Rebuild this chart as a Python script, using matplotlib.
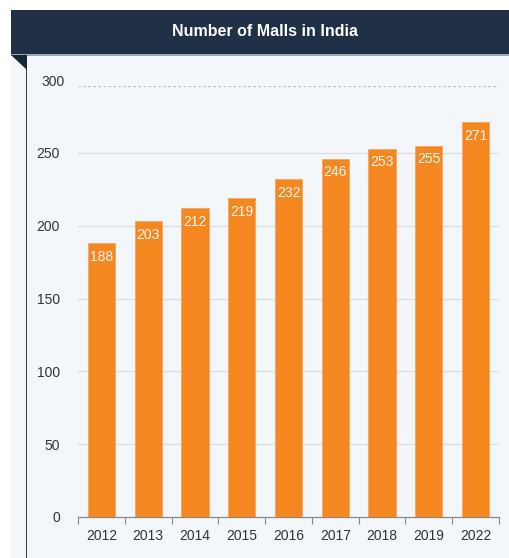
import matplotlib
matplotlib.use("Agg")
import matplotlib.pyplot as plt
from matplotlib.patches import Rectangle, Polygon
from matplotlib.transforms import offset_copy
import numpy as np

years = ["2012", "2013", "2014", "2015", "2016", "2017", "2018", "2019", "2022"]
malls = [188, 203, 212, 219, 232, 246, 253, 255, 271]
yticks = [0, 50, 100, 150, 200, 250]
title = "Number of Malls in India"

W, H = 510, 558
fig = plt.figure(figsize=(W / 100, H / 100), dpi=100)
fig.patch.set_facecolor("white")

def fx(px):
    return px / W

def fy(py):
    return 1 - py / H

# panel background
fig.patches.append(Rectangle((fx(11), 0), fx(W - 11), fy(55), transform=fig.transFigure,
                             facecolor="#f3f7f9", edgecolor="none", zorder=-10))
# header
fig.patches.append(Rectangle((fx(11), fy(54)), fx(W - 11), 44 / H, transform=fig.transFigure,
                             facecolor="#1f3047", edgecolor="none", zorder=-9))
fig.patches.append(Rectangle((fx(11), fy(55.5)), fx(W - 11), 1.5 / H, transform=fig.transFigure,
                             facecolor="#9aa8b2", edgecolor="none", zorder=-9))
# left vertical line
fig.patches.append(Rectangle((fx(25.5), 0), 1.3 / W, fy(55), transform=fig.transFigure,
                             facecolor="#2c3d4c", edgecolor="none", zorder=-9))
# triangle
fig.patches.append(Polygon([(fx(11), fy(55)), (fx(26.5), fy(55)), (fx(26.5), fy(70))],
                           closed=True, transform=fig.transFigure,
                           facecolor="#17262f", edgecolor="none", zorder=-9))

fig.text(fx(265.5), fy(32), title, ha="center", va="center", color="white",
         fontsize=11.5, fontweight="bold", family="Liberation Sans")

ax = fig.add_axes([fx(78), fy(517), fx(499) - fx(78), (517 - 86) / H])
ax.set_facecolor("none")

x = np.arange(len(years))
ax.bar(x, malls, width=0.58, color="#f58720", edgecolor="#f8a968", linewidth=0.7, zorder=3)
for xi, v in zip(x, malls):
    ax.text(xi, v - 4.5, str(v), ha="center", va="top", color="white", alpha=0.95,
            fontsize=10, family="Liberation Sans", zorder=4)

ax.set_xlim(-0.5, len(years) - 0.5)
ax.set_ylim(0, 296)
ax.set_yticks(yticks)
ax.set_yticklabels([str(t) for t in yticks])
ax.tick_params(axis="y", length=0, pad=13, labelsize=10, labelcolor="#333333")
for lab in ax.get_yticklabels():
    lab.set_family("Liberation Sans")
ax.text(-0.5, 300, "300", transform=offset_copy(ax.transData, fig=fig, x=-13, y=0, units="dots"),
        ha="right", va="center_baseline", fontsize=10, color="#333333",
        family="Liberation Sans", clip_on=False)

ax.set_xticks(x)
ax.set_xticklabels(years)
ax.tick_params(axis="x", length=0, pad=9, labelsize=10, labelcolor="#333333")
for lab in ax.get_xticklabels():
    lab.set_family("Liberation Sans")
ax.set_xticks(np.arange(len(years) + 1) - 0.5, minor=True)
ax.tick_params(axis="x", which="minor", length=5, width=0.8, color="#888888")

for t in [50, 100, 150, 200, 250]:
    ax.axhline(t, color="#dcdfe1", linewidth=1, zorder=1)
ax.axhline(296, color="#b9bec2", linewidth=0.9, linestyle=(0, (2, 2)), zorder=1)

for s in ["top", "right", "left"]:
    ax.spines[s].set_visible(False)
ax.spines["bottom"].set_color("#888888")
ax.spines["bottom"].set_linewidth(0.9)

fig.savefig("out.png", dpi=100)
